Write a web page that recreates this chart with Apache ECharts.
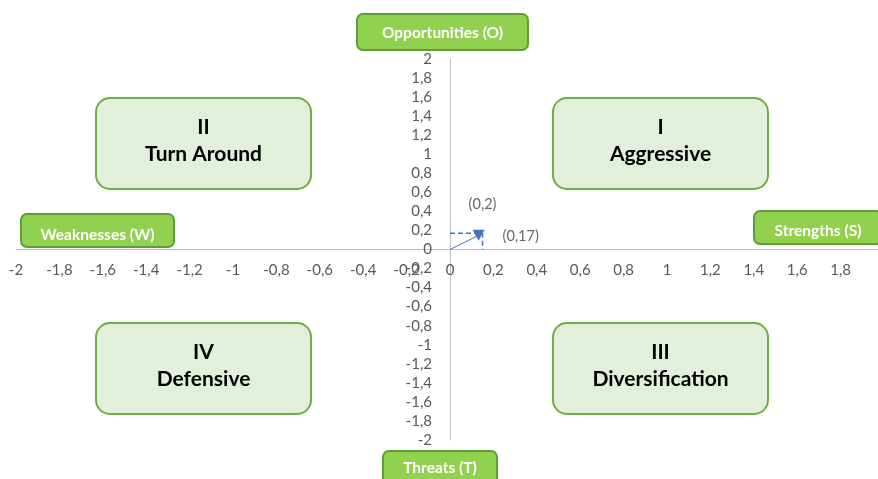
<!DOCTYPE html>
<html>
<head>
<meta charset="utf-8">
<script src="https://cdn.jsdelivr.net/npm/echarts@6/dist/echarts.min.js"></script>
<style>
  html, body { margin: 0; padding: 0; background: #ffffff; }
  #chart { width: 878px; height: 479px; }
</style>
</head>
<body>
<div id="chart"></div>
<script>
// SWOT strategy position chart

// Quadrant names, in order I, II, III, IV
const quadrantNumerals = ['I', 'II', 'III', 'IV'];
const quadrantNames = ['Aggressive', 'Turn Around', 'Diversification', 'Defensive'];

// Axis end titles
const axisTitles = ['Opportunities (O)', 'Weaknesses (W)', 'Strengths (S)', 'Threats (T)'];

// Strategy vector: from origin to the resulting position (S-W, O-T)
const vectorX = [0, 0.15];
const vectorY = [0, 0.17];

// Axis scale
const axisMin = -2;
const axisMax = 2;
const axisStep = 0.2;

const FONT = 'Lato, "Open Sans", sans-serif';

function comma(v, digits) {
  return String(+(+v).toFixed(digits)).replace('.', ',');
}
function roundHalfUp(v, digits) {
  const f = Math.pow(10, digits);
  return Math.round(v * f) / f;
}

// plot area
const G = { left: 16, top: 59, width: 868, height: 381 };

const chart = echarts.init(document.getElementById('chart'), null, { renderer: 'canvas' });

const px = vectorX[vectorX.length - 1];
const py = vectorY[vectorY.length - 1];

// the axes cross at the origin: shift each axis onto the other's zero
const zeroFromLeft = G.width * (0 - axisMin) / (axisMax - axisMin);
const zeroFromBottom = G.height * (0 - axisMin) / (axisMax - axisMin);

function valueAxis(margin, offset) {
  return {
    type: 'value',
    min: axisMin,
    max: axisMax,
    interval: axisStep,
    offset: offset,
    axisLine: { onZero: false, lineStyle: { color: '#bfbfbf', width: 1 } },
    axisTick: { show: false },
    splitLine: { show: false },
    axisLabel: {
      color: '#595959',
      fontFamily: FONT,
      fontSize: 15,
      margin: margin,
      hideOverlap: false,
      formatter: v => comma(v, 2)
    }
  };
}

// Rounded box with centred text lines
function box(x, y, w, h, r, fill, stroke, lines, font, color, lineHeight, dy) {
  return {
    type: 'group',
    children: [
      {
        type: 'rect',
        shape: { x: x, y: y, width: w, height: h, r: r },
        style: { fill: fill, stroke: stroke, lineWidth: 2 }
      },
      {
        type: 'text',
        x: x + w / 2,
        y: y + h / 2 + (dy || 0),
        style: {
          text: lines.join('\n'),
          font: font,
          fill: color,
          align: 'center',
          verticalAlign: 'middle',
          lineHeight: lineHeight
        }
      }
    ]
  };
}

const quadFill = '#e2efda', quadStroke = '#70ad47';
const quadFont = 'bold 21px ' + FONT;
const quadPos = [[553, 98], [96, 98], [553, 323], [96, 323]];
const quadBoxes = quadrantNames.map((name, i) =>
  box(quadPos[i][0], quadPos[i][1], 215, 91, 14, quadFill, quadStroke,
      [quadrantNumerals[i], name], quadFont, '#000000', 27, -3));

const tagFill = '#92d050', tagStroke = '#5f9e37';
const tagFont = 'bold 15.5px ' + FONT;
const tagRects = [[357, 14, 171, 36], [21, 214, 153, 33], [754, 211, 128, 33], [383, 451, 114, 40]];
const tagDy = [1, 4, 3, -3];
const tagBoxes = axisTitles.map((t, i) =>
  box(tagRects[i][0], tagRects[i][1], tagRects[i][2], tagRects[i][3], 6,
      tagFill, tagStroke, [t], tagFont, '#ffffff', 18, tagDy[i]));

const option = {
  backgroundColor: '#ffffff',
  animation: false,
  grid: Object.assign({ containLabel: false, outerBoundsMode: 'none' }, G),
  xAxis: valueAxis(13, -zeroFromBottom),
  yAxis: valueAxis(18, -zeroFromLeft),
  series: [
    {
      // drop lines to both axes
      type: 'line',
      data: [[0, py], [px, py], [px, 0]],
      symbol: 'none',
      lineStyle: { color: '#4472c4', width: 1.5, type: [5, 3] },
      silent: true,
      z: 3
    },
    {
      // the strategy vector with its arrow head
      type: 'line',
      data: vectorX.map((x, i) => ({
        value: [x, vectorY[i]],
        symbol: i === vectorX.length - 1 ? 'triangle' : 'none'
      })),
      symbolSize: [12, 11],
      symbolRotate: 180,
      symbolOffset: [-4, 2],
      showSymbol: true,
      lineStyle: { color: '#4472c4', width: 1 },
      itemStyle: { color: '#4472c4' },
      silent: true,
      z: 4
    },
    {
      // coordinate labels of the resulting position
      type: 'scatter',
      symbolSize: 0,
      silent: true,
      data: [
        {
          value: [px, py],
          label: {
            show: true, position: 'top', distance: 21,
            formatter: '(' + comma(roundHalfUp(px, 1), 1) + ')'
          }
        },
        {
          value: [px, py],
          label: {
            show: true, position: 'right', distance: 20, offset: [0, 3],
            formatter: '(' + comma(py, 2) + ')'
          }
        }
      ],
      label: { color: '#404040', fontFamily: FONT, fontSize: 14.5 },
      z: 5
    }
  ],
  graphic: quadBoxes.concat(tagBoxes)
};

chart.setOption(option);
</script>
</body>
</html>
